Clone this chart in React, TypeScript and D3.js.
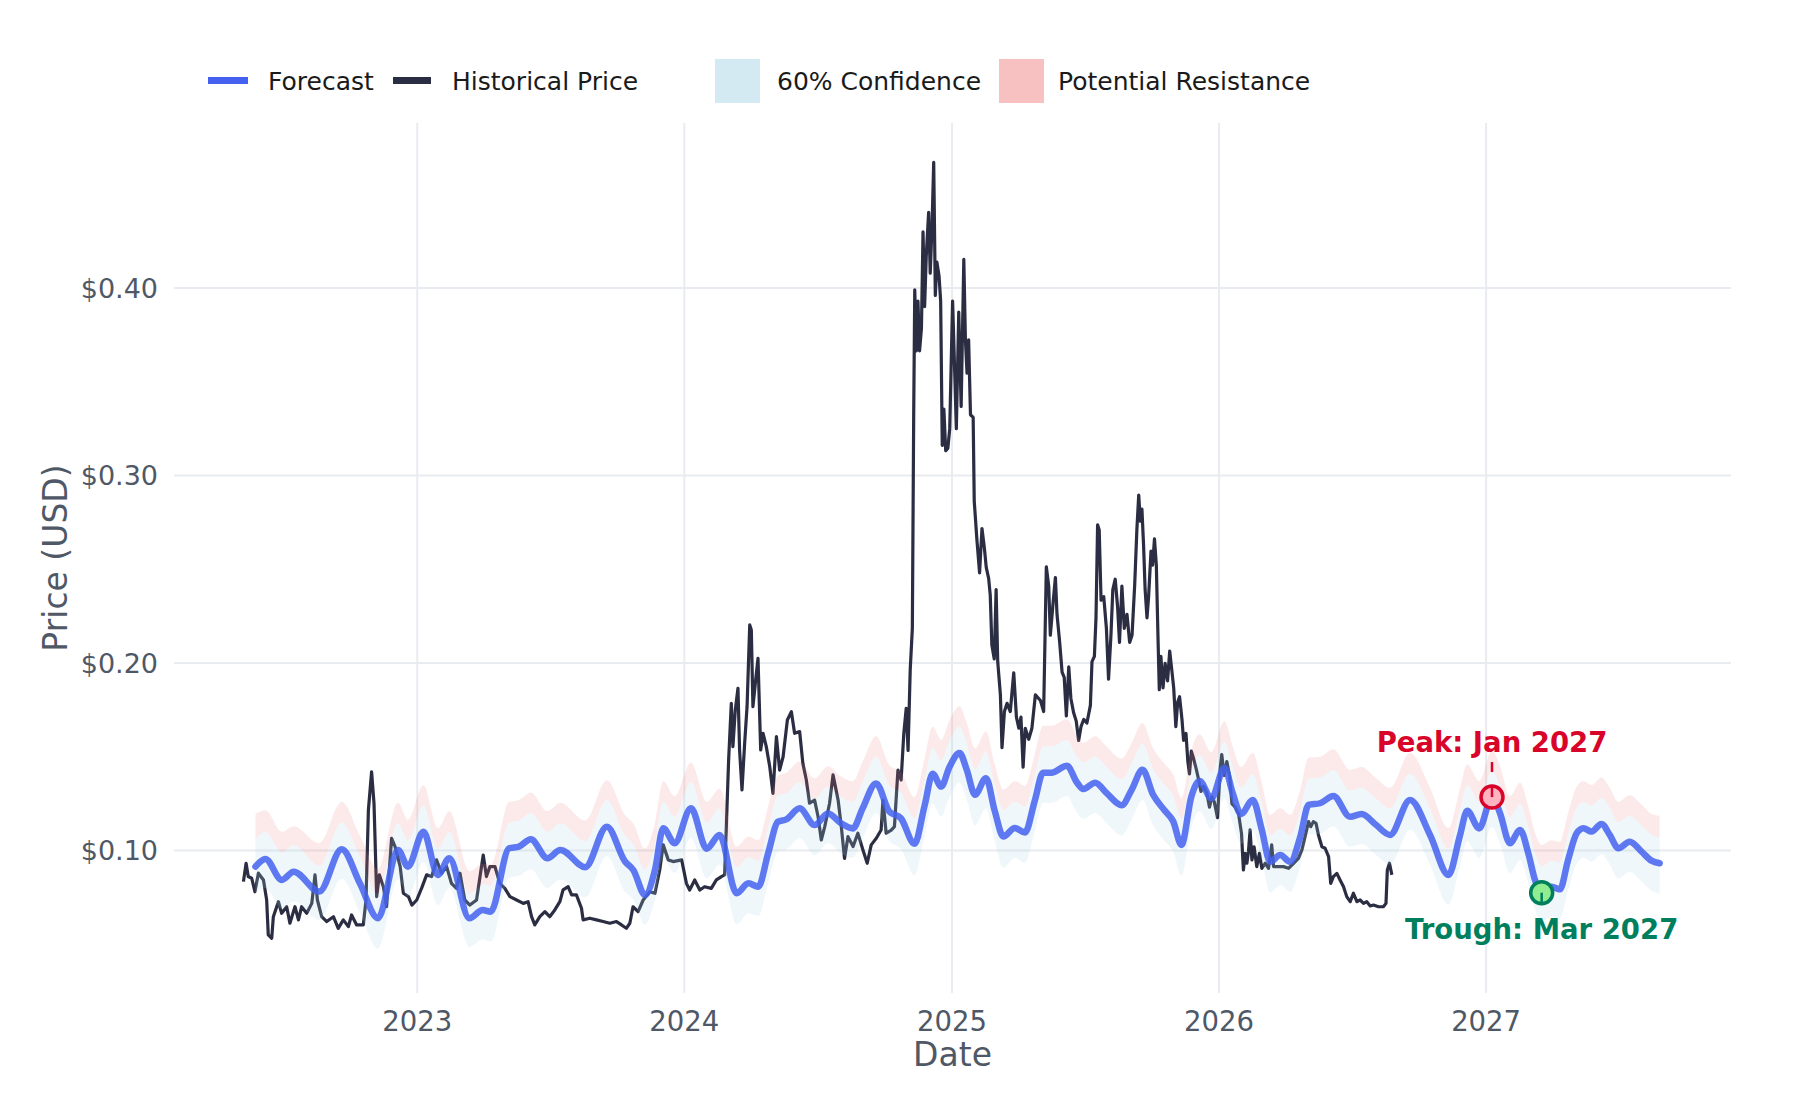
import React from "react";
import * as d3 from "d3";

const width = 1800;
const height = 1100;
const plotLeft = 174;
const plotRight = 1731;
const plotTop = 123;
const plotBottom = 993;
const font = "DejaVu Sans, Verdana, sans-serif";
const axisGrey = "#4f5866";

// time values are decimal years
const forecastYears = [
  2022.394, 2022.431, 2022.493, 2022.537, 2022.633, 2022.717, 2022.785, 2022.853, 2022.928, 2022.965,
  2023.023, 2023.077, 2023.12, 2023.195, 2023.245, 2023.275, 2023.344, 2023.381, 2023.425, 2023.487,
  2023.536, 2023.629, 2023.71, 2023.778, 2023.809, 2023.853, 2023.89, 2023.921, 2023.964, 2024.025,
  2024.084, 2024.132, 2024.196, 2024.24, 2024.277, 2024.314, 2024.351, 2024.382, 2024.432, 2024.488,
  2024.538, 2024.587, 2024.631, 2024.668, 2024.718, 2024.768, 2024.811, 2024.862, 2024.9, 2024.93,
  2024.962, 2024.993, 2025.028, 2025.055, 2025.086, 2025.127, 2025.16, 2025.192, 2025.235, 2025.273,
  2025.31, 2025.341, 2025.372, 2025.43, 2025.468, 2025.492, 2025.536, 2025.579, 2025.635, 2025.673,
  2025.713, 2025.753, 2025.797, 2025.828, 2025.859, 2025.896, 2025.927, 2025.971, 2026.02, 2026.051,
  2026.082, 2026.126, 2026.16, 2026.191, 2026.229, 2026.266, 2026.304, 2026.335, 2026.378, 2026.428,
  2026.49, 2026.534, 2026.585, 2026.64, 2026.715, 2026.79, 2026.859, 2026.902, 2026.929, 2026.974,
  2027.022, 2027.052, 2027.089, 2027.127, 2027.158, 2027.183, 2027.208, 2027.245, 2027.276, 2027.307,
  2027.339, 2027.364, 2027.395, 2027.432, 2027.463, 2027.495, 2027.538, 2027.582, 2027.619, 2027.65,
];

const forecastPrice = [
  0.0914, 0.0955, 0.0843, 0.0887, 0.0781, 0.1007, 0.0825, 0.0639, 0.1003, 0.0914,
  0.11, 0.087, 0.0959, 0.0639, 0.0683, 0.0674, 0.1012, 0.1021, 0.106, 0.0959,
  0.1003, 0.0911, 0.1127, 0.0941, 0.0896, 0.0763, 0.0896, 0.1119, 0.1039, 0.1225,
  0.101, 0.1083, 0.0772, 0.0825, 0.0807, 0.0985, 0.1154, 0.1166, 0.1225, 0.1136,
  0.1198, 0.1145, 0.1118, 0.1225, 0.1358, 0.1207, 0.1172, 0.1036, 0.124, 0.141,
  0.1341, 0.1445, 0.152, 0.143, 0.1297, 0.1386, 0.121, 0.1075, 0.112, 0.1096,
  0.1267, 0.1415, 0.1415, 0.1452, 0.1362, 0.1328, 0.1362, 0.1306, 0.1241, 0.1325,
  0.1431, 0.1297, 0.1212, 0.1156, 0.103, 0.1287, 0.1371, 0.1278, 0.1441, 0.1306,
  0.1194, 0.127, 0.111, 0.094, 0.0976, 0.094, 0.1074, 0.1243, 0.1252, 0.1291,
  0.118, 0.1195, 0.114, 0.1083, 0.127, 0.1083, 0.087, 0.108, 0.1212, 0.1118,
  0.1285, 0.1199, 0.1039, 0.111, 0.0985, 0.0843, 0.0775, 0.0807, 0.0793, 0.095,
  0.1092, 0.1119, 0.1101, 0.1142, 0.1083, 0.1012, 0.1047, 0.0994, 0.0946, 0.0932,
];

const confidenceLow = [
  0.0775, 0.08, 0.069, 0.073, 0.063, 0.085, 0.067, 0.0475, 0.0845, 0.0755,
  0.094, 0.071, 0.08, 0.0485, 0.0525, 0.0515, 0.0855, 0.0865, 0.09, 0.08,
  0.0845, 0.075, 0.097, 0.078, 0.074, 0.0605, 0.074, 0.096, 0.088, 0.1065,
  0.085, 0.0925, 0.0605, 0.0665, 0.065, 0.0825, 0.0995, 0.1005, 0.1065, 0.0975,
  0.104, 0.0985, 0.096, 0.1065, 0.12, 0.105, 0.101, 0.087, 0.108, 0.125,
  0.118, 0.1285, 0.136, 0.127, 0.1135, 0.1225, 0.105, 0.091, 0.096, 0.0935,
  0.1105, 0.1255, 0.1255, 0.129, 0.12, 0.117, 0.12, 0.1145, 0.108, 0.1165,
  0.127, 0.1135, 0.105, 0.0995, 0.0865, 0.1125, 0.121, 0.1115, 0.128, 0.1145,
  0.1035, 0.111, 0.095, 0.0775, 0.0815, 0.078, 0.0915, 0.1085, 0.109, 0.113,
  0.102, 0.1035, 0.098, 0.0925, 0.111, 0.0925, 0.071, 0.092, 0.105, 0.096,
  0.1125, 0.104, 0.088, 0.095, 0.0825, 0.0685, 0.062, 0.065, 0.0635, 0.079,
  0.093, 0.096, 0.094, 0.098, 0.0925, 0.085, 0.0885, 0.0835, 0.0785, 0.077,
];

const confidenceHigh = [
  0.106, 0.11, 0.099, 0.103, 0.092, 0.115, 0.097, 0.077, 0.1145, 0.1055,
  0.124, 0.101, 0.11, 0.077, 0.082, 0.0815, 0.115, 0.116, 0.12, 0.11,
  0.1145, 0.105, 0.127, 0.108, 0.1035, 0.09, 0.1035, 0.126, 0.118, 0.1365,
  0.115, 0.1225, 0.091, 0.0965, 0.0945, 0.1125, 0.1295, 0.1305, 0.1365, 0.1275,
  0.134, 0.1285, 0.126, 0.1365, 0.15, 0.1345, 0.131, 0.1175, 0.138, 0.155,
  0.148, 0.1585, 0.166, 0.157, 0.1435, 0.1525, 0.135, 0.1215, 0.126, 0.1235,
  0.1405, 0.1555, 0.1555, 0.159, 0.15, 0.147, 0.15, 0.1445, 0.138, 0.1465,
  0.157, 0.1435, 0.135, 0.1295, 0.117, 0.1425, 0.151, 0.1415, 0.158, 0.1445,
  0.1335, 0.141, 0.125, 0.108, 0.1115, 0.108, 0.1215, 0.1385, 0.139, 0.143,
  0.132, 0.1335, 0.128, 0.1225, 0.141, 0.1225, 0.101, 0.122, 0.135, 0.126,
  0.1425, 0.134, 0.118, 0.125, 0.1125, 0.0985, 0.0915, 0.0945, 0.0935, 0.109,
  0.123, 0.126, 0.124, 0.128, 0.1225, 0.115, 0.1185, 0.1135, 0.1085, 0.107,
];

const resistanceHigh = [
  0.1195, 0.1215, 0.11, 0.113, 0.104, 0.126, 0.108, 0.09, 0.1255, 0.1165,
  0.135, 0.112, 0.121, 0.089, 0.093, 0.0925, 0.126, 0.127, 0.131, 0.121,
  0.1255, 0.116, 0.1375, 0.119, 0.1145, 0.101, 0.1145, 0.137, 0.129, 0.147,
  0.126, 0.133, 0.102, 0.1075, 0.1055, 0.1235, 0.14, 0.1415, 0.1475, 0.1385,
  0.145, 0.1395, 0.137, 0.1475, 0.161, 0.1455, 0.142, 0.1285, 0.149, 0.166,
  0.159, 0.1695, 0.177, 0.168, 0.1545, 0.1635, 0.146, 0.1325, 0.137, 0.1345,
  0.1515, 0.1665, 0.1665, 0.17, 0.161, 0.1575, 0.161, 0.1555, 0.149, 0.1575,
  0.168, 0.1545, 0.146, 0.1405, 0.128, 0.1535, 0.162, 0.1525, 0.169, 0.1555,
  0.1445, 0.152, 0.136, 0.119, 0.1225, 0.119, 0.1325, 0.1495, 0.15, 0.154,
  0.143, 0.1445, 0.139, 0.1335, 0.152, 0.1335, 0.112, 0.133, 0.146, 0.137,
  0.1535, 0.145, 0.129, 0.136, 0.1235, 0.1095, 0.103, 0.1055, 0.1045, 0.12,
  0.134, 0.137, 0.135, 0.139, 0.1335, 0.126, 0.1295, 0.1245, 0.1195, 0.1185,
];

// [decimal year, close]
const historicalPrice: [number, number][] = [
  [2022.349, 0.0834], [2022.359, 0.0932], [2022.367, 0.0861], [2022.38, 0.0852], [2022.392, 0.078],
  [2022.405, 0.0879], [2022.424, 0.0843], [2022.436, 0.0736], [2022.442, 0.055], [2022.455, 0.0532],
  [2022.461, 0.0647], [2022.48, 0.0727], [2022.492, 0.0665], [2022.511, 0.07], [2022.523, 0.0612],
  [2022.542, 0.07], [2022.555, 0.063], [2022.567, 0.07], [2022.586, 0.0665], [2022.605, 0.0718],
  [2022.617, 0.087], [2022.626, 0.0736], [2022.642, 0.0647], [2022.661, 0.0621], [2022.686, 0.0647],
  [2022.704, 0.0585], [2022.723, 0.063], [2022.742, 0.0594], [2022.754, 0.0656], [2022.773, 0.0603],
  [2022.798, 0.0603], [2022.808, 0.0736], [2022.817, 0.1216], [2022.829, 0.142], [2022.838, 0.1252],
  [2022.848, 0.0754], [2022.858, 0.087], [2022.873, 0.0807], [2022.885, 0.07], [2022.904, 0.1065],
  [2022.917, 0.102], [2022.936, 0.0914], [2022.948, 0.0772], [2022.967, 0.0754], [2022.98, 0.0709],
  [2022.998, 0.0736], [2023.016, 0.0798], [2023.035, 0.087], [2023.054, 0.0861], [2023.072, 0.095],
  [2023.091, 0.0879], [2023.11, 0.0914], [2023.128, 0.0825], [2023.147, 0.0798], [2023.16, 0.0879],
  [2023.178, 0.0736], [2023.197, 0.0709], [2023.222, 0.0736], [2023.247, 0.0976], [2023.259, 0.0861],
  [2023.272, 0.0914], [2023.291, 0.0914], [2023.309, 0.0825], [2023.328, 0.0798], [2023.347, 0.0754],
  [2023.372, 0.0736], [2023.397, 0.0718], [2023.415, 0.0727], [2023.428, 0.0647], [2023.44, 0.0603],
  [2023.459, 0.0647], [2023.478, 0.0674], [2023.496, 0.0647], [2023.515, 0.0683], [2023.534, 0.0727],
  [2023.546, 0.079], [2023.565, 0.0807], [2023.578, 0.0763], [2023.596, 0.0763], [2023.615, 0.0692],
  [2023.621, 0.063], [2023.646, 0.0639], [2023.671, 0.063], [2023.696, 0.0621], [2023.721, 0.0612],
  [2023.746, 0.0621], [2023.765, 0.0603], [2023.783, 0.0585], [2023.796, 0.0612], [2023.808, 0.07],
  [2023.827, 0.0674], [2023.846, 0.0736], [2023.871, 0.078], [2023.89, 0.0772], [2023.908, 0.0896],
  [2023.921, 0.103], [2023.94, 0.095], [2023.958, 0.0941], [2023.99, 0.095], [2024.008, 0.0825],
  [2024.02, 0.0789], [2024.039, 0.0843], [2024.058, 0.0789], [2024.076, 0.0807], [2024.101, 0.0798],
  [2024.12, 0.0843], [2024.139, 0.0861], [2024.151, 0.087], [2024.16, 0.1234], [2024.166, 0.1483],
  [2024.176, 0.1785], [2024.182, 0.1554], [2024.191, 0.175], [2024.201, 0.1865], [2024.207, 0.1536],
  [2024.216, 0.1323], [2024.226, 0.1572], [2024.235, 0.1767], [2024.245, 0.2203], [2024.251, 0.2176],
  [2024.257, 0.1767], [2024.266, 0.1892], [2024.276, 0.2025], [2024.286, 0.1536], [2024.295, 0.1625],
  [2024.307, 0.1554], [2024.32, 0.1447], [2024.332, 0.1305], [2024.345, 0.1607], [2024.357, 0.1429],
  [2024.37, 0.15], [2024.386, 0.1696], [2024.401, 0.174], [2024.413, 0.1625], [2024.432, 0.1634],
  [2024.444, 0.1465], [2024.457, 0.1376], [2024.469, 0.1252], [2024.488, 0.1269], [2024.501, 0.118],
  [2024.513, 0.1056], [2024.526, 0.1127], [2024.544, 0.1252], [2024.557, 0.1403], [2024.576, 0.1269],
  [2024.588, 0.1127], [2024.6, 0.0958], [2024.613, 0.1074], [2024.632, 0.1021], [2024.65, 0.1092],
  [2024.669, 0.1003], [2024.685, 0.0932], [2024.7, 0.103], [2024.719, 0.1065], [2024.737, 0.1109],
  [2024.744, 0.1269], [2024.756, 0.1092], [2024.775, 0.1109], [2024.787, 0.1127], [2024.8, 0.1429],
  [2024.812, 0.1376], [2024.822, 0.1625], [2024.831, 0.1758], [2024.838, 0.1534], [2024.846, 0.1963],
  [2024.854, 0.2185], [2024.859, 0.331], [2024.863, 0.399], [2024.869, 0.3665], [2024.875, 0.393],
  [2024.881, 0.3665], [2024.888, 0.3783], [2024.894, 0.43], [2024.9, 0.3901], [2024.906, 0.4168],
  [2024.915, 0.4404], [2024.921, 0.4079], [2024.928, 0.4345], [2024.934, 0.467], [2024.94, 0.396],
  [2024.946, 0.4138], [2024.954, 0.4064], [2024.96, 0.393], [2024.966, 0.3161], [2024.972, 0.3354],
  [2024.979, 0.3132], [2024.987, 0.3146], [2024.994, 0.325], [2025.002, 0.393], [2025.01, 0.3546],
  [2025.016, 0.325], [2025.025, 0.3872], [2025.034, 0.3368], [2025.044, 0.4153], [2025.05, 0.3724],
  [2025.056, 0.3546], [2025.062, 0.3724], [2025.069, 0.3324], [2025.079, 0.331], [2025.083, 0.2865],
  [2025.093, 0.2658], [2025.103, 0.2481], [2025.112, 0.2717], [2025.121, 0.2614], [2025.128, 0.251],
  [2025.137, 0.2451], [2025.143, 0.2362], [2025.149, 0.2096], [2025.158, 0.2022], [2025.165, 0.2392],
  [2025.171, 0.2007], [2025.181, 0.183], [2025.187, 0.1548], [2025.196, 0.1741], [2025.206, 0.1785],
  [2025.218, 0.1741], [2025.231, 0.1948], [2025.241, 0.1711], [2025.25, 0.1652], [2025.258, 0.1711],
  [2025.266, 0.1445], [2025.274, 0.1652], [2025.287, 0.1593], [2025.299, 0.1652], [2025.312, 0.183],
  [2025.331, 0.18], [2025.343, 0.1741], [2025.353, 0.2513], [2025.362, 0.241], [2025.368, 0.2148],
  [2025.378, 0.2316], [2025.387, 0.2456], [2025.393, 0.226], [2025.403, 0.211], [2025.412, 0.1951],
  [2025.42, 0.1923], [2025.428, 0.1718], [2025.437, 0.1979], [2025.445, 0.1811], [2025.455, 0.1736],
  [2025.465, 0.169], [2025.474, 0.1587], [2025.483, 0.1661], [2025.493, 0.1699], [2025.505, 0.168],
  [2025.518, 0.1774], [2025.524, 0.2007], [2025.533, 0.2035], [2025.539, 0.2241], [2025.545, 0.2737],
  [2025.551, 0.2709], [2025.558, 0.2335], [2025.568, 0.2354], [2025.578, 0.2185], [2025.586, 0.1914],
  [2025.595, 0.2148], [2025.602, 0.2391], [2025.611, 0.2447], [2025.62, 0.2297], [2025.627, 0.211],
  [2025.636, 0.241], [2025.645, 0.2185], [2025.655, 0.226], [2025.665, 0.211], [2025.674, 0.2148],
  [2025.684, 0.2419], [2025.692, 0.2709], [2025.699, 0.2896], [2025.705, 0.2756], [2025.711, 0.2821],
  [2025.717, 0.2634], [2025.723, 0.2391], [2025.73, 0.2241], [2025.736, 0.2354], [2025.745, 0.2597],
  [2025.751, 0.2522], [2025.758, 0.2662], [2025.765, 0.2522], [2025.771, 0.2148], [2025.776, 0.1858],
  [2025.782, 0.2035], [2025.79, 0.1867], [2025.798, 0.1998], [2025.807, 0.1905], [2025.815, 0.2064],
  [2025.823, 0.1961], [2025.83, 0.1867], [2025.838, 0.1661], [2025.845, 0.1792], [2025.852, 0.182],
  [2025.861, 0.1699], [2025.867, 0.1587], [2025.876, 0.1624], [2025.883, 0.1474], [2025.889, 0.1409],
  [2025.896, 0.153], [2025.904, 0.1493], [2025.914, 0.1437], [2025.923, 0.1381], [2025.932, 0.1315],
  [2025.942, 0.1343], [2025.954, 0.1306], [2025.964, 0.1231], [2025.973, 0.1287], [2025.982, 0.1259],
  [2025.994, 0.1175], [2026.004, 0.1437], [2026.01, 0.1512], [2026.019, 0.14], [2026.029, 0.1474],
  [2026.039, 0.14], [2026.048, 0.125], [2026.06, 0.1231], [2026.073, 0.1194], [2026.084, 0.109],
  [2026.091, 0.0896], [2026.098, 0.0985], [2026.104, 0.0932], [2026.11, 0.0994], [2026.116, 0.111],
  [2026.123, 0.095], [2026.131, 0.102], [2026.141, 0.0914], [2026.151, 0.0985], [2026.16, 0.0905],
  [2026.173, 0.0932], [2026.185, 0.0905], [2026.197, 0.103], [2026.204, 0.0914], [2026.222, 0.0914],
  [2026.241, 0.0914], [2026.26, 0.0905], [2026.279, 0.0932], [2026.297, 0.0958], [2026.31, 0.1003],
  [2026.322, 0.1074], [2026.335, 0.1154], [2026.343, 0.1127], [2026.353, 0.1154], [2026.363, 0.1145],
  [2026.372, 0.1083], [2026.385, 0.102], [2026.397, 0.1012], [2026.41, 0.0967], [2026.418, 0.0825],
  [2026.428, 0.0861], [2026.441, 0.0878], [2026.453, 0.0843], [2026.466, 0.0807], [2026.478, 0.0754],
  [2026.491, 0.0727], [2026.503, 0.0772], [2026.516, 0.0727], [2026.528, 0.0736], [2026.541, 0.0718],
  [2026.553, 0.0727], [2026.566, 0.0704], [2026.578, 0.0709], [2026.597, 0.07], [2026.615, 0.07],
  [2026.625, 0.0718], [2026.63, 0.0896], [2026.638, 0.0932], [2026.647, 0.087],
];

const peak = { year: 2027.022, price: 0.1285, label: "Peak: Jan 2027" };
const trough = { year: 2027.208, price: 0.0775, label: "Trough: Mar 2027" };

const yearToDate = (t: number) => {
  const y = Math.floor(t);
  return new Date(new Date(y, 0, 1).getTime() + (t - y) * 365 * 864e5);
};

const App = () => {
  const x = d3
    .scaleTime()
    .domain([yearToDate(2022.089), yearToDate(2027.917)])
    .range([plotLeft, plotRight]);
  const y = d3.scaleLinear().domain([0.024, 0.488]).range([plotBottom, plotTop]);

  const forecast = forecastYears.map((t, i) => ({
    date: yearToDate(t),
    price: forecastPrice[i],
    low: confidenceLow[i],
    high: confidenceHigh[i],
    top: resistanceHigh[i],
  }));
  const history = historicalPrice.map(([t, p]) => ({ date: yearToDate(t), price: p }));

  const historyLine = d3
    .line<{ date: Date; price: number }>()
    .x((d) => x(d.date))
    .y((d) => y(d.price));
  const forecastLine = d3
    .line<(typeof forecast)[number]>()
    .curve(d3.curveMonotoneX)
    .x((d) => x(d.date))
    .y((d) => y(d.price));
  const confidenceArea = d3
    .area<(typeof forecast)[number]>()
    .curve(d3.curveMonotoneX)
    .x((d) => x(d.date))
    .y0((d) => y(d.low))
    .y1((d) => y(d.high));
  const resistanceArea = d3
    .area<(typeof forecast)[number]>()
    .curve(d3.curveMonotoneX)
    .x((d) => x(d.date))
    .y0((d) => y(d.high))
    .y1((d) => y(d.top));

  const xTicks = x.ticks(d3.timeYear.every(1));
  const yTicks = y.ticks(5);
  const fmtYear = d3.timeFormat("%Y");
  const fmtPrice = d3.format("$.2f");

  const px = x(yearToDate(peak.year));
  const py = y(peak.price);
  const tx = x(yearToDate(trough.year));
  const ty = y(trough.price);

  return (
    <div style={{ position: "absolute", left: 0, top: 0 }}>
      <svg width={width} height={height} style={{ fontFamily: font, background: "#fff" }}>
        {/* grid */}
        {yTicks.map((v) => (
          <line key={"gy" + v} x1={plotLeft} x2={plotRight} y1={y(v)} y2={y(v)} stroke="#e8ebf0" strokeWidth={2} />
        ))}
        {xTicks.map((d) => (
          <line key={"gx" + d.getTime()} x1={x(d)} x2={x(d)} y1={plotTop} y2={plotBottom} stroke="#e8ebf0" strokeWidth={2} />
        ))}

        <path d={historyLine(history) ?? ""} fill="none" stroke="#2b2d42" strokeWidth={3.2} strokeLinejoin="round" />
        <path d={confidenceArea(forecast) ?? ""} fill="#add8e6" fillOpacity={0.2} />
        <path d={resistanceArea(forecast) ?? ""} fill="#f08080" fillOpacity={0.17} />
        <path
          d={forecastLine(forecast) ?? ""}
          fill="none"
          stroke="#4361ee"
          strokeOpacity={0.85}
          strokeWidth={6.5}
          strokeLinejoin="round"
          strokeLinecap="round"
        />

        {/* peak / trough markers */}
        <circle cx={px} cy={py} r={11} fill="#ffb3c1" stroke="#d90429" strokeWidth={3.5} />
        <line x1={px} x2={px} y1={py - 35} y2={py - 25} stroke="#d90429" strokeWidth={2.5} />
        <line x1={px} x2={px} y1={py - 10} y2={py} stroke="#d90429" strokeWidth={2.5} />
        <text x={px} y={py - 45} textAnchor="middle" fontSize={27.5} fontWeight="bold" fill="#d90429">
          {peak.label}
        </text>
        <circle cx={tx} cy={ty} r={11} fill="#90ee90" stroke="#007f5f" strokeWidth={3.5} />
        <line x1={tx} x2={tx} y1={ty} y2={ty + 10} stroke="#007f5f" strokeWidth={2.5} />
        <text x={tx} y={ty + 46} textAnchor="middle" fontSize={27.5} fontWeight="bold" fill="#007f5f">
          {trough.label}
        </text>

        {/* axes labels */}
        {yTicks.map((v) => (
          <text key={"ty" + v} x={158} y={y(v)} dominantBaseline="central" textAnchor="end" fontSize={27} fill={axisGrey}>
            {fmtPrice(v)}
          </text>
        ))}
        {xTicks.map((d) => (
          <text key={"tx" + d.getTime()} x={x(d)} y={1031} textAnchor="middle" fontSize={27.5} fill={axisGrey}>
            {fmtYear(d)}
          </text>
        ))}
        <text x={(plotLeft + plotRight) / 2} y={1066} textAnchor="middle" fontSize={33} fill={axisGrey}>
          Date
        </text>
        <text
          transform={`translate(67, ${(plotTop + plotBottom) / 2}) rotate(-90)`}
          textAnchor="middle"
          fontSize={33}
          fill={axisGrey}
        >
          Price (USD)
        </text>

        {/* legend */}
        <g fontSize={25} fill="#1a1a1a">
          <line x1={208} x2={248} y1={80.5} y2={80.5} stroke="#4361ee" strokeWidth={7} />
          <text x={268} y={90}>Forecast</text>
          <line x1={393} x2={431} y1={80.5} y2={80.5} stroke="#2b2d42" strokeWidth={7} />
          <text x={452} y={90}>Historical Price</text>
          <rect x={715} y={59} width={45} height={44} fill="#d3eaf2" />
          <text x={777} y={90}>60% Confidence</text>
          <rect x={999} y={59} width={45} height={44} fill="#f8c1c1" />
          <text x={1058} y={90}>Potential Resistance</text>
        </g>
      </svg>
    </div>
  );
};

export default App;
